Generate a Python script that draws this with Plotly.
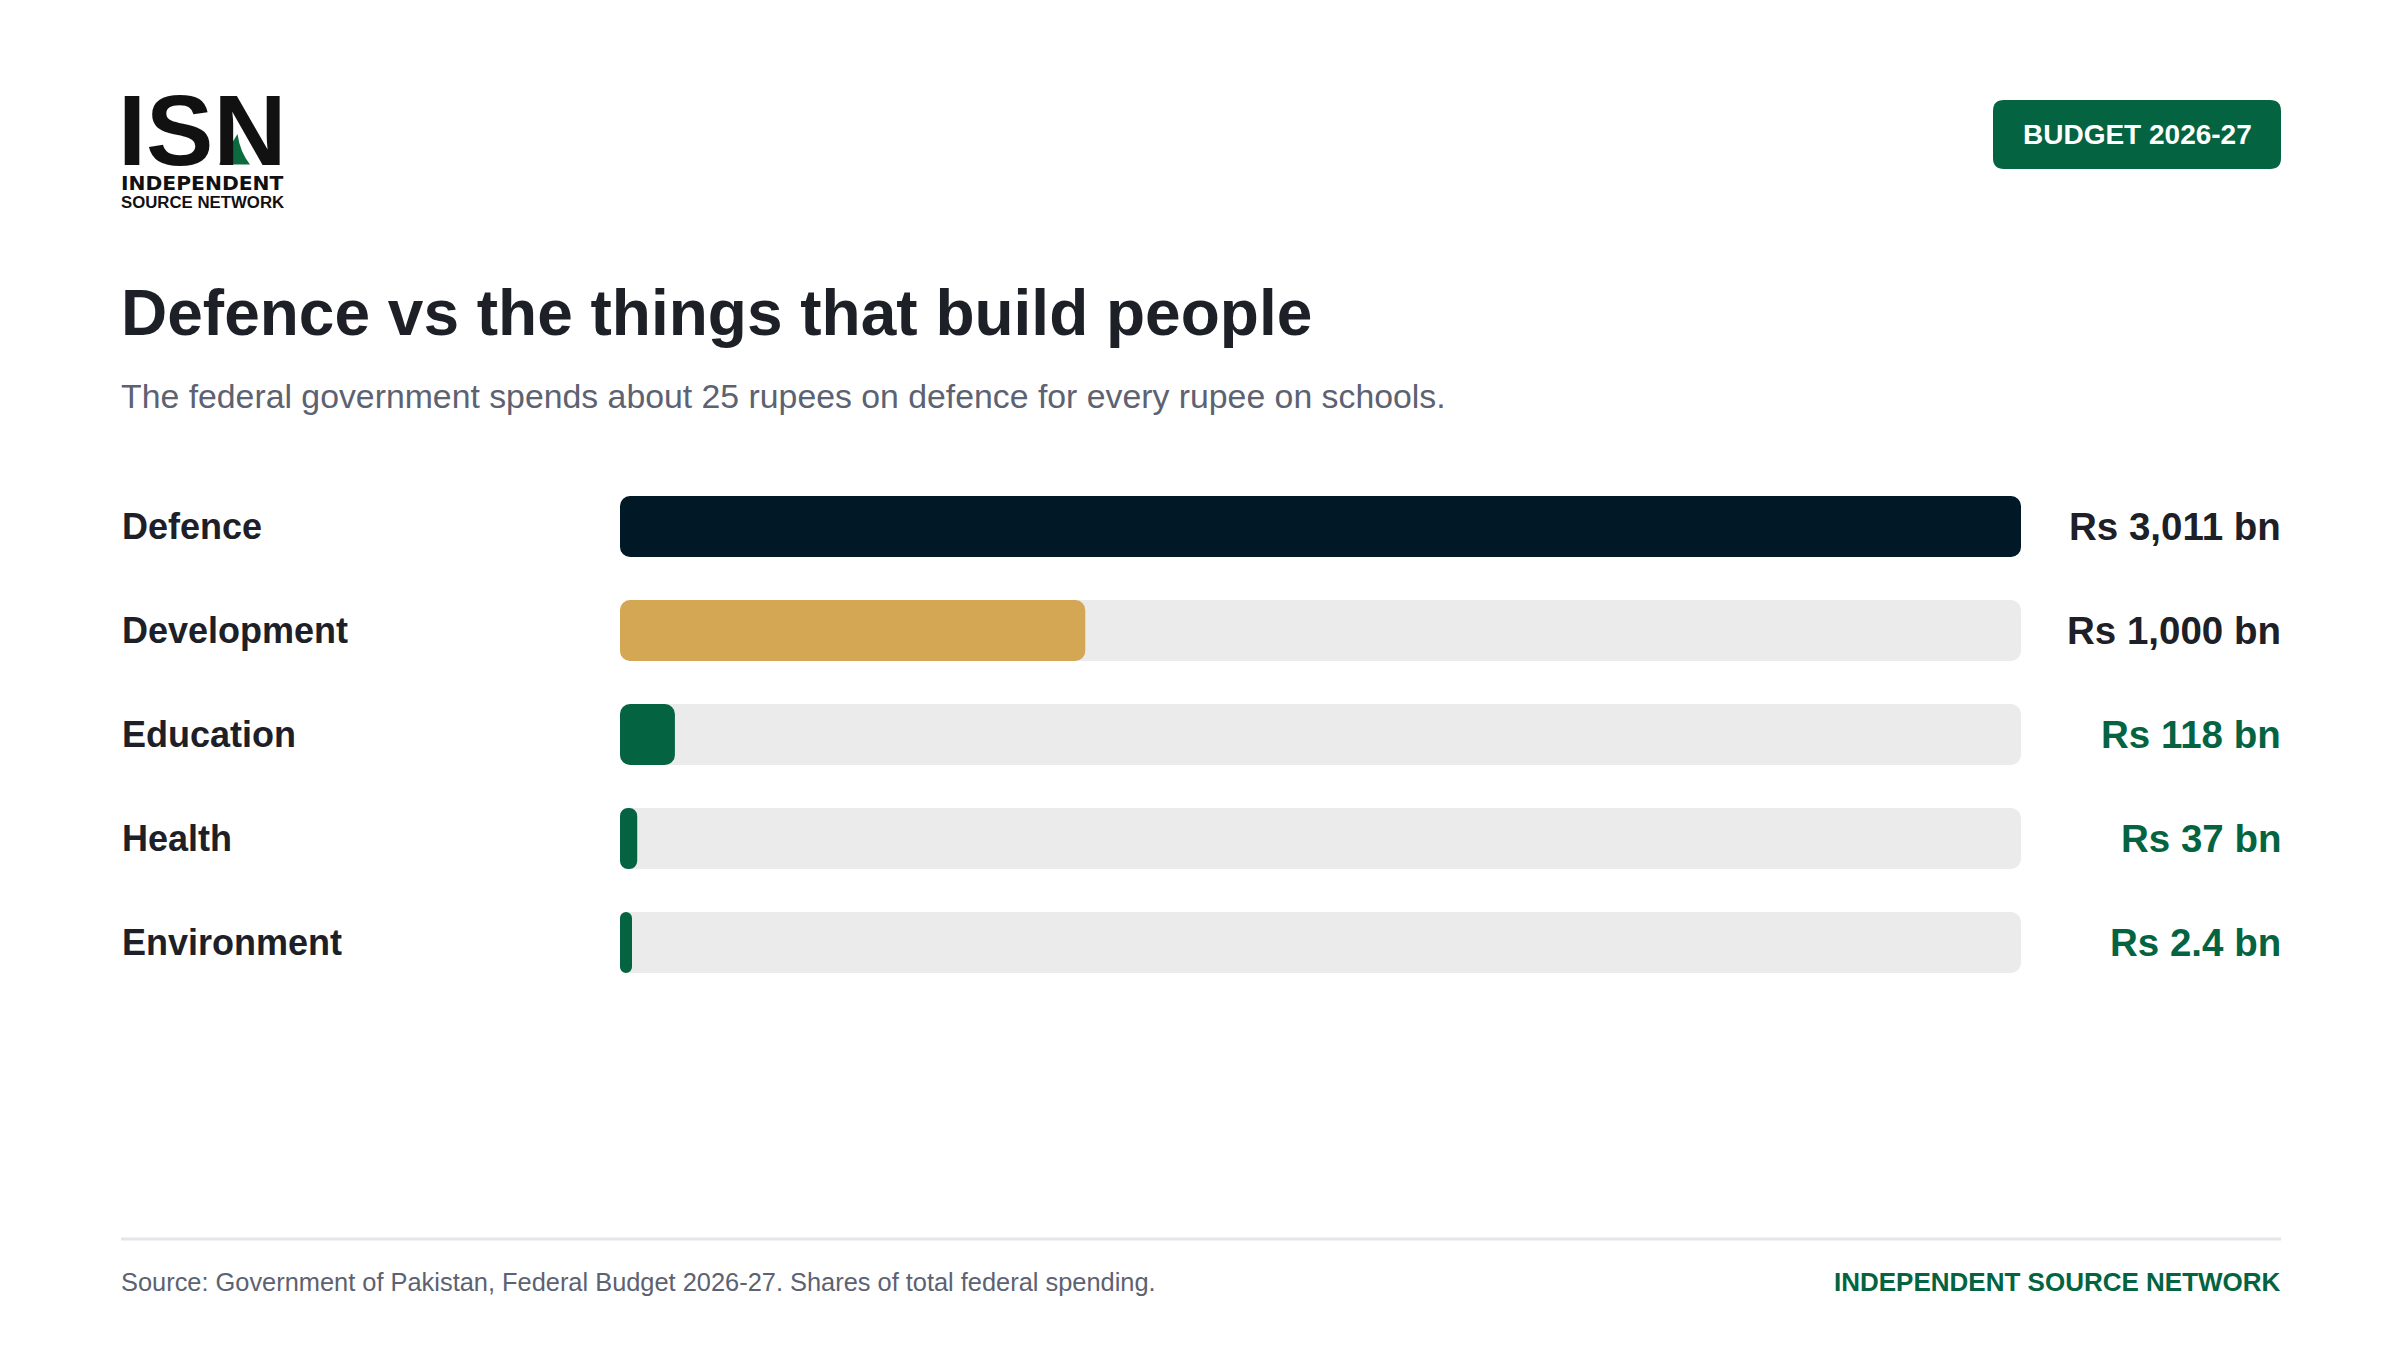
import plotly.graph_objects as go

# ---------------- data ----------------
categories = ["Defence", "Development", "Education", "Health", "Environment"]
values_bn = [3011, 1000, 118, 37, 2.4]
value_labels = ["Rs 3,011 bn", "Rs 1,000 bn", "Rs 118 bn", "Rs 37 bn", "Rs 2.4 bn"]
bar_colors = ["#011826", "#d4a754", "#046441", "#046441", "#046441"]
value_label_colors = ["#1d2027", "#1d2027", "#046441", "#046441", "#046441"]
scale_max = 3011

title_text = "Defence vs the things that build people"
subtitle_text = "The federal government spends about 25 rupees on defence for every rupee on schools."
source_text = "Source: Government of Pakistan, Federal Budget 2026-27. Shares of total federal spending."
brand_text = "INDEPENDENT SOURCE NETWORK"
badge_text = "BUDGET 2026-27"

# ---------------- layout helpers ----------------
W, H = 2400, 1350
def px(x):
    return x / W
def py(y):
    return 1 - y / H

FONT = "Liberation Sans, Arial, Helvetica, sans-serif"
DARK = "#1d2027"
GRAY = "#5c6271"
GREEN = "#046441"

track_left, track_right = 620, 2021
row_top, row_step = 474.5, 104
n = len(categories)
data_per_px = scale_max / (track_right - track_left)
# very small values are drawn with a minimum visible width (pill)
min_val = 12 * data_per_px
display_vals = [max(v, min_val) for v in values_bn]
ypos = list(range(n))
BAR_W = 0.587

fig = go.Figure()
# background tracks (drawn from the far end back to zero)
fig.add_trace(go.Bar(
    x=[-scale_max] * n, base=[scale_max] * n, y=ypos, orientation="h", width=BAR_W,
    marker=dict(color="#ebebeb", line=dict(width=0)), hoverinfo="skip", showlegend=False,
))
# value bars
fig.add_trace(go.Bar(
    x=[-v for v in display_vals], base=display_vals, y=ypos, orientation="h", width=BAR_W,
    marker=dict(color=bar_colors, line=dict(width=0)),
    customdata=values_bn, text=categories, textposition="none",
    hovertemplate="%{text}: Rs %{customdata} bn<extra></extra>", showlegend=False,
))

annotations = []
for i, (cat, lab, col) in enumerate(zip(categories, value_labels, value_label_colors)):
    annotations.append(dict(
        x=px(120), y=i, xref="paper", yref="y", xanchor="left", yanchor="middle",
        text=cat, showarrow=False,
        font=dict(family=FONT, size=36, color=DARK, weight=700),
    ))
    annotations.append(dict(
        x=px(2283), y=i, xref="paper", yref="y", xanchor="right", yanchor="middle",
        text=lab, showarrow=False,
        font=dict(family=FONT, size=38.5, color=col, weight=700),
    ))

# title & subtitle
annotations.append(dict(x=px(119), y=py(313), xref="paper", yref="paper",
                        xanchor="left", yanchor="middle", text=title_text, showarrow=False,
                        font=dict(family=FONT, size=64, color=DARK, weight=700)))
annotations.append(dict(x=px(119), y=py(396), xref="paper", yref="paper",
                        xanchor="left", yanchor="middle", text=subtitle_text, showarrow=False,
                        font=dict(family=FONT, size=33.8, color=GRAY)))
# logo wordmark
annotations.append(dict(x=px(116), y=py(129.5), xref="paper", yref="paper",
                        xanchor="left", yanchor="middle", text="ISN", showarrow=False,
                        font=dict(family=FONT, size=101, color="#111111", weight=700)))
# logo name (two tight lines in one text block)
logo_name = ('<span style="font-size:20.3px;font-family:DejaVu Sans">INDEPENDENT</span><br>'
             '<span style="font-size:16.8px">SOURCE NETWORK</span>')
annotations.append(dict(x=px(119), y=py(191.3), xref="paper", yref="paper",
                        xanchor="left", yanchor="middle", align="left",
                        text=logo_name, showarrow=False,
                        font=dict(family=FONT, size=13.85, color="#111111", weight=700)))
# badge text
annotations.append(dict(x=px(2137), y=py(135), xref="paper", yref="paper",
                        xanchor="center", yanchor="middle", text=badge_text, showarrow=False,
                        font=dict(family=FONT, size=28, color="#ffffff", weight=700)))
# footer
annotations.append(dict(x=px(119), y=py(1282), xref="paper", yref="paper",
                        xanchor="left", yanchor="middle", text=source_text, showarrow=False,
                        font=dict(family=FONT, size=25.4, color=GRAY)))
annotations.append(dict(x=px(2283), y=py(1282), xref="paper", yref="paper",
                        xanchor="right", yanchor="middle", text=brand_text, showarrow=False,
                        font=dict(family=FONT, size=26, color=GREEN, weight=700)))


def rounded_rect(x0, y0, x1, y1, r):
    rx, ry = r / W, r / H
    X0, X1 = px(x0), px(x1)
    Y0, Y1 = py(y0), py(y1)  # Y0 top, Y1 bottom
    return (f"M {X0+rx},{Y0} L {X1-rx},{Y0} Q {X1},{Y0} {X1},{Y0-ry} "
            f"L {X1},{Y1+ry} Q {X1},{Y1} {X1-rx},{Y1} L {X0+rx},{Y1} "
            f"Q {X0},{Y1} {X0},{Y1+ry} L {X0},{Y0-ry} Q {X0},{Y0} {X0+rx},{Y0} Z")


shapes = [
    dict(type="path", xref="paper", yref="paper", path=rounded_rect(1993, 100, 2281, 169, 11),
         fillcolor="#046441", line=dict(width=0), layer="below"),
    dict(type="line", xref="paper", yref="paper", x0=px(121), x1=px(2281),
         y0=py(1239), y1=py(1239), line=dict(color="#e3e5e8", width=3)),
    # logo accent: white cut-out then green peak inside the N
    dict(type="path", xref="paper", yref="paper",
         path=(f"M {px(234)},{py(121)} L {px(240)},{py(128)} Q {px(244)},{py(150)} {px(256)},{py(167)} "
               f"L {px(213)},{py(167)} Z"),
         fillcolor="#ffffff", line=dict(width=0), layer="above"),
    dict(type="path", xref="paper", yref="paper",
         path=(f"M {px(237.5)},{py(134)} Q {px(240)},{py(152)} {px(250)},{py(164.5)} "
               f"L {px(219)},{py(164.5)} Z"),
         fillcolor="#0b6a3e", line=dict(width=0), layer="above"),
]

fig.update_layout(
    width=W, height=H,
    margin=dict(l=0, r=0, t=0, b=0),
    paper_bgcolor="#ffffff", plot_bgcolor="rgba(0,0,0,0)",
    barmode="overlay", barcornerradius=10,
    xaxis=dict(domain=[px(track_left), px(track_right)], range=[0, scale_max],
               visible=False, fixedrange=True),
    yaxis=dict(domain=[py(row_top + row_step * n), py(row_top)], range=[n - 0.5, -0.5],
               visible=False, fixedrange=True),
    annotations=annotations, shapes=shapes,
    showlegend=False,
)

fig.write_html("out.html")
